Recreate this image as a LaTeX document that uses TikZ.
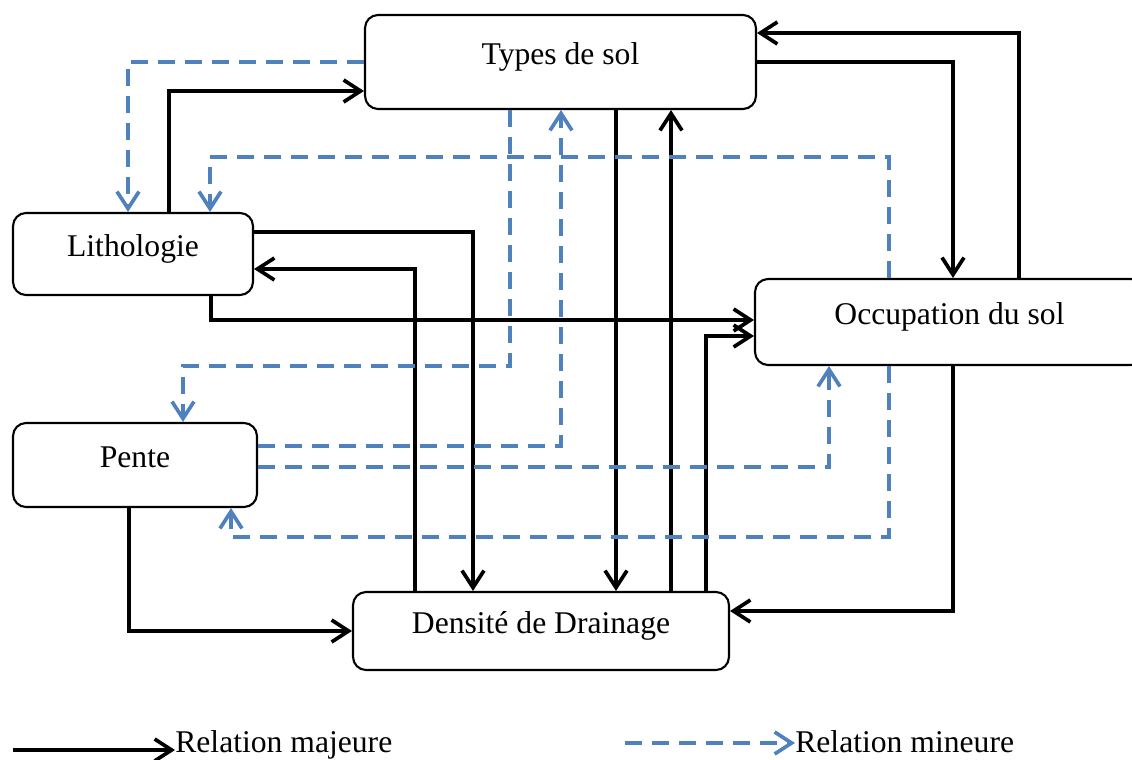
\documentclass[tikz,border=0pt]{standalone}
\usepackage{fontspec}
\setmainfont{Liberation Serif}
\usetikzlibrary{arrows.meta}

\definecolor{minorblue}{RGB}{79,129,189}

\begin{document}
\begin{tikzpicture}[
  x=0.02cm, y=-0.02cm,
  box/.style={draw, rounded corners=0.26cm, line width=1.2pt, inner sep=0pt,
    font=\fontsize{18}{22}\selectfont, text height=12pt, text depth=9pt},
  tip/.style={-{Straight Barb[length=0.34cm, width=0.44cm, line width=2.1pt]}},
  major/.style={tip, line width=2.1pt, black},
  minor/.style={tip, line width=2.1pt, minorblue, dash pattern=on 0.34cm off 0.2cm},
  legend/.style={anchor=base west, inner sep=0pt, font=\fontsize{18}{22}\selectfont}
]
\useasboundingbox (0,0) rectangle (1132,760);

% Factors
\node[box, minimum width=7.82cm, minimum height=1.88cm] (types) at (560.5,62) {Types de sol};
\node[box, minimum width=4.80cm, minimum height=1.64cm] (litho) at (133,254) {Lithologie};
\node[box, minimum width=7.78cm, minimum height=1.72cm] (occ) at (949.5,322) {Occupation du sol};
\node[box, minimum width=4.88cm, minimum height=1.68cm] (pente) at (135,465) {Pente};
\node[box, minimum width=7.52cm, minimum height=1.56cm] (dens) at (541,631) {Densit\'e de Drainage};

% Major relations
\draw[major] (litho.north -| 169,0) |- (types.west |- 0,91);
\draw[major] (types.east) -| (occ.north -| 953,0);
\draw[major] (occ.north -| 1019,0) |- (types.east |- 0,33);
\draw[major] (litho.east |- 0,232) -| (dens.north -| 473,0);
\draw[major] (dens.north -| 415,0) |- (litho.east |- 0,269);
\draw[major] (litho.south -| 211,0) |- (occ.west |- 0,320);
\draw[major] (types.south -| 616,0) -- (dens.north -| 616,0);
\draw[major] (dens.north -| 671,0) -- (types.south -| 671,0);
\draw[major] (dens.north -| 706,0) |- (occ.west |- 0,336);
\draw[major] (occ.south -| 953,0) |- (dens.east |- 0,611);
\draw[major] (pente.south -| 129,0) |- (dens.west);

% Minor relations
\draw[minor] (types.west) -| (litho.north -| 128,0);
\draw[minor] (occ.north -| 889,0) -- (889,157) -| (litho.north -| 210,0);
\draw[minor] (types.south -| 510,0) -- (510,366) -| (pente.north -| 183,0);
\draw[minor] (pente.east |- 0,446) -| (types.south -| 561,0);
\draw[minor] (pente.east |- 0,467) -| (occ.south -| 829,0);
\draw[minor] (occ.south -| 889,0) -- (889,537) -| (pente.south -| 231,0);

% Legend
\node[legend] (lgmajor) at (175,752) {Relation majeure};
\node[legend] (lgminor) at (795,752) {Relation mineure};
\coordinate (lgmajorstart) at (13,750);
\coordinate (lgminorstart) at (625,743);
\draw[major, line width=2.6pt] (lgmajorstart) -- (lgmajorstart -| lgmajor.west);
\draw[minor] (lgminorstart) -- (lgminorstart -| lgminor.west);

\end{tikzpicture}
\end{document}
